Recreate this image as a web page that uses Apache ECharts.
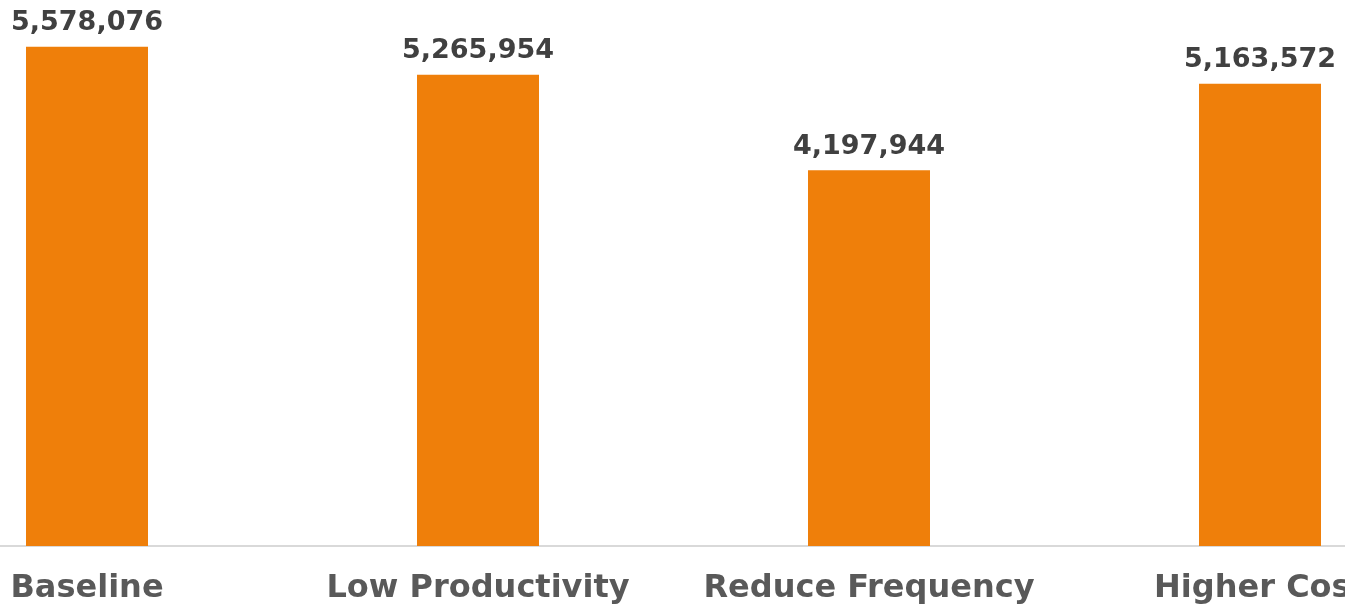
<!DOCTYPE html>
<html>
<head>
<meta charset="utf-8">
<title>Scenario totals</title>
<script src="https://cdn.jsdelivr.net/npm/echarts@6/dist/echarts.min.js"></script>
<style>
  html, body { margin: 0; padding: 0; background: #ffffff; }
  #chart { width: 1345px; height: 606px; }
</style>
</head>
<body>
<div id="chart"></div>
<script>
// Scenario names along the x axis
const categories = ['Baseline', 'Low Productivity', 'Reduce Frequency', 'Higher Cost'];
// Total for each scenario
const totals = [5578076, 5265954, 4197944, 5163572];

const chart = echarts.init(document.getElementById('chart'), null, { renderer: 'canvas' });

const fontFamily = '"DejaVu Sans", Verdana, sans-serif';

chart.setOption({
  animation: false,
  grid: {
    left: -108.5,
    width: 1564,
    top: 9,
    bottom: 60,
    containLabel: false,
    outerBoundsMode: 'none'
  },
  xAxis: {
    type: 'category',
    data: categories,
    axisLine: { show: true, lineStyle: { color: '#D9D9D9', width: 2 } },
    axisTick: { show: false },
    axisLabel: {
      color: '#595959',
      fontFamily: fontFamily,
      fontWeight: 'bold',
      fontSize: 32,
      margin: 27,
      interval: 0
    }
  },
  yAxis: {
    type: 'value',
    min: 0,
    max: 6000000,
    show: false,
    splitLine: { show: false }
  },
  series: [{
    type: 'bar',
    data: totals,
    barWidth: 122,
    itemStyle: { color: '#EF7F0A' },
    label: {
      show: true,
      position: 'top',
      distance: 10,
      color: '#404040',
      fontFamily: fontFamily,
      fontWeight: 'bold',
      fontSize: 27,
      formatter: p => p.value.toLocaleString('en-US')
    }
  }]
});
</script>
</body>
</html>
